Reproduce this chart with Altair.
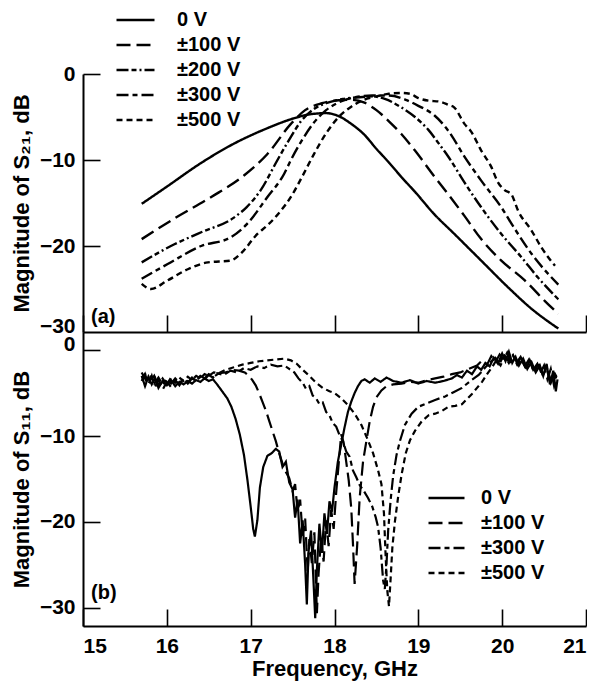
import altair as alt
import pandas as pd

FONT = "Liberation Sans"
FREQ_TICKS = [15, 16, 17, 18, 19, 20, 21]
Y_TICKS = [0, -10, -20, -30]

S21_LABELS = ["0 V", "±100 V", "±200 V", "±300 V", "±500 V"]
S11_LABELS = ["0 V", "±100 V", "±300 V", "±500 V"]

# ---- panel (a): |S21| in dB, (frequency GHz, dB) ----
s21_0v = [(15.70, -15.1), (16.00, -13.1), (16.40, -10.4), (16.80, -8.1), (17.20, -6.3), (17.50, -5.2),
          (17.70, -4.7), (17.90, -4.55), (18.05, -4.9), (18.20, -5.8), (18.35, -7.0), (18.50, -8.7),
          (18.65, -10.3), (18.80, -12.0), (18.96, -13.7), (19.19, -16.3), (19.43, -18.6), (19.75, -21.7),
          (20.07, -24.8), (20.35, -27.3), (20.67, -29.6)]
s21_100 = [(15.70, -19.2), (16.09, -16.8), (16.53, -14.3), (16.92, -11.8), (17.20, -9.3), (17.48, -5.8),
           (17.65, -4.2), (17.85, -3.4), (18.05, -3.05), (18.20, -3.0), (18.35, -3.3), (18.50, -4.2),
           (18.68, -5.8), (18.80, -7.0), (18.96, -8.9), (19.19, -11.9), (19.35, -13.9), (19.55, -16.5),
           (19.75, -19.2), (19.99, -21.7), (20.27, -24.0), (20.51, -26.4), (20.67, -27.9)]
s21_200 = [(15.70, -21.9), (16.09, -19.8), (16.41, -18.4), (16.80, -16.7), (16.95, -15.5), (17.12, -13.5),
           (17.32, -10.0), (17.48, -7.3), (17.60, -5.5), (17.75, -4.1), (17.90, -3.4), (18.10, -2.9),
           (18.30, -2.7), (18.45, -2.6), (18.60, -2.9), (18.80, -3.9), (18.96, -5.0), (19.12, -6.5),
           (19.26, -8.3), (19.35, -9.5), (19.55, -12.6), (19.75, -15.5), (19.99, -18.6), (20.23, -21.3),
           (20.43, -23.7), (20.67, -26.2)]
s21_300 = [(15.70, -23.8), (16.01, -22.1), (16.41, -20.0), (16.76, -19.0), (16.96, -17.4), (17.20, -14.3),
           (17.40, -11.6), (17.48, -10.0), (17.60, -7.9), (17.75, -5.7), (17.90, -4.2), (18.05, -3.3),
           (18.25, -2.7), (18.45, -2.5), (18.65, -2.5), (18.85, -3.0), (19.00, -3.7), (19.19, -4.8),
           (19.35, -6.5), (19.55, -9.6), (19.75, -12.4), (19.99, -15.5), (20.15, -18.0), (20.35, -20.9),
           (20.67, -24.5)]
s21_500 = [(15.70, -24.4), (15.81, -25.0), (16.01, -24.0), (16.25, -22.7), (16.49, -21.9), (16.76, -21.7),
           (16.88, -20.9), (17.08, -18.6), (17.20, -17.6), (17.36, -15.9), (17.48, -14.3), (17.60, -12.2),
           (17.75, -9.4), (17.90, -6.9), (18.05, -5.0), (18.20, -3.8), (18.35, -3.0), (18.50, -2.6),
           (18.65, -2.3), (18.80, -2.2), (18.90, -2.3), (19.00, -2.8), (19.12, -3.1), (19.25, -3.2),
           (19.36, -3.6), (19.43, -3.9), (19.55, -5.8), (19.63, -6.7), (19.75, -8.9), (19.87, -10.8),
           (19.95, -12.6), (20.03, -13.5), (20.11, -14.0), (20.19, -15.9), (20.35, -18.2), (20.47, -20.2),
           (20.63, -22.3)]

# ---- panel (b): |S11| in dB ----
s11_0v = [(15.70, -3.0), (15.74, -4.2), (15.78, -3.1), (15.82, -4.0), (15.86, -3.3), (15.90, -4.4),
          (15.95, -3.6), (16.00, -4.1), (16.05, -3.5), (16.10, -4.2), (16.15, -3.7), (16.20, -4.0),
          (16.25, -3.6), (16.30, -3.9), (16.35, -3.5), (16.40, -3.7), (16.45, -3.3), (16.50, -3.6),
          (16.55, -3.4), (16.60, -4.0), (16.66, -4.8), (16.72, -5.6), (16.77, -6.6), (16.82, -8.0),
          (16.87, -9.8), (16.92, -12.2), (16.96, -15.0), (17.00, -18.2), (17.03, -20.8), (17.05, -21.7),
          (17.08, -19.8), (17.11, -16.0), (17.15, -13.6), (17.20, -12.3), (17.25, -12.0), (17.30, -11.5),
          (17.34, -11.8), (17.38, -13.6), (17.42, -13.0), (17.46, -15.4), (17.50, -16.2), (17.53, -19.5),
          (17.56, -17.4), (17.59, -22.5), (17.62, -19.8), (17.65, -25.0), (17.67, -29.6), (17.69, -23.5),
          (17.72, -21.0), (17.75, -27.0), (17.77, -31.2), (17.79, -25.5), (17.82, -20.2), (17.85, -23.6),
          (17.88, -19.0), (17.91, -21.4), (17.94, -17.6), (17.97, -18.8), (18.00, -16.0), (18.04, -13.0),
          (18.08, -11.0), (18.12, -9.0), (18.16, -7.2), (18.20, -6.0), (18.24, -5.0), (18.28, -4.2),
          (18.32, -3.6), (18.36, -3.4), (18.42, -3.8), (18.48, -3.3), (18.55, -3.7), (18.62, -3.2),
          (18.70, -3.6), (18.80, -3.8), (18.90, -3.5), (19.00, -3.9), (19.10, -3.6), (19.20, -3.8),
          (19.30, -3.6), (19.40, -3.3), (19.46, -2.9), (19.52, -3.2), (19.58, -2.4), (19.64, -2.8),
          (19.70, -1.9), (19.75, -2.3), (19.80, -1.5), (19.85, -1.9), (19.90, -0.9), (19.95, -1.6),
          (20.00, -0.4), (20.04, -1.3), (20.08, -0.2), (20.12, -1.5), (20.16, -0.8), (20.20, -1.8),
          (20.25, -1.0), (20.30, -2.2), (20.35, -1.4), (20.40, -2.6), (20.45, -1.8), (20.49, -3.0),
          (20.53, -1.6), (20.57, -4.0), (20.61, -2.4), (20.64, -4.8), (20.66, -3.4)]
s11_100 = [(15.70, -3.6), (15.74, -2.8), (15.78, -4.0), (15.82, -3.0), (15.86, -4.3), (15.90, -3.4),
           (15.95, -4.6), (16.00, -3.7), (16.05, -4.3), (16.10, -3.5), (16.15, -4.1), (16.20, -3.3),
           (16.25, -3.8), (16.30, -3.2), (16.35, -3.6), (16.40, -3.0), (16.45, -3.3), (16.50, -2.8),
           (16.56, -3.1), (16.62, -2.7), (16.70, -2.6), (16.78, -2.3), (16.86, -2.4), (16.93, -2.6),
           (16.98, -3.0), (17.02, -3.5), (17.06, -4.1), (17.10, -5.0), (17.14, -6.0), (17.18, -7.0),
           (17.22, -8.2), (17.26, -9.4), (17.30, -10.6), (17.34, -12.0), (17.38, -13.2), (17.42, -14.2),
           (17.46, -14.9), (17.50, -16.4), (17.53, -15.6), (17.56, -18.8), (17.59, -17.4), (17.62, -21.6),
           (17.65, -19.6), (17.68, -25.8), (17.70, -22.0), (17.73, -24.8), (17.76, -21.2), (17.79, -30.6),
           (17.81, -26.0), (17.84, -21.8), (17.87, -24.6), (17.90, -19.8), (17.93, -22.8), (17.96, -18.6),
           (17.99, -20.8), (18.02, -16.6), (18.05, -13.2), (18.08, -9.8), (18.11, -10.8), (18.14, -13.0),
           (18.17, -15.2), (18.20, -18.4), (18.22, -22.5), (18.24, -27.2), (18.27, -22.8), (18.30, -17.2),
           (18.34, -13.0), (18.38, -10.6), (18.42, -8.3), (18.46, -6.6), (18.50, -5.5), (18.56, -4.7),
           (18.62, -4.2), (18.70, -4.0), (18.80, -3.9), (18.90, -3.7), (19.00, -3.8), (19.10, -3.5),
           (19.20, -3.3), (19.30, -3.1), (19.40, -2.8), (19.50, -2.6), (19.60, -2.2), (19.70, -1.8),
           (19.76, -1.2), (19.82, -1.7), (19.87, -0.7), (19.92, -1.4), (19.97, -0.5), (20.02, -1.1),
           (20.06, -0.3), (20.10, -1.3), (20.14, -0.6), (20.18, -1.6), (20.22, -0.9), (20.27, -1.9),
           (20.32, -1.1), (20.37, -2.3), (20.42, -1.6), (20.46, -2.6), (20.50, -1.8), (20.54, -3.4),
           (20.58, -2.2), (20.62, -4.2), (20.66, -3.2)]
s11_300 = [(15.70, -2.6), (15.75, -3.5), (15.80, -2.9), (15.85, -3.9), (15.90, -3.2), (15.95, -4.0),
           (16.00, -3.4), (16.05, -3.9), (16.10, -3.3), (16.15, -3.8), (16.20, -3.4), (16.25, -3.9),
           (16.30, -3.3), (16.35, -3.6), (16.40, -3.1), (16.45, -3.4), (16.50, -2.9), (16.55, -3.2),
           (16.60, -2.7), (16.68, -2.9), (16.76, -2.4), (16.84, -2.6), (16.92, -2.1), (17.00, -2.3),
           (17.08, -1.9), (17.16, -2.1), (17.24, -1.7), (17.32, -1.9), (17.40, -1.8), (17.46, -2.2),
           (17.52, -2.6), (17.57, -3.3), (17.62, -3.8), (17.66, -4.5), (17.70, -4.2), (17.74, -5.3),
           (17.78, -5.6), (17.82, -6.3), (17.86, -6.1), (17.90, -7.2), (17.94, -7.6), (17.98, -8.5),
           (18.02, -8.9), (18.06, -9.9), (18.10, -10.6), (18.14, -11.8), (18.18, -12.4), (18.22, -14.0),
           (18.26, -14.8), (18.30, -15.7), (18.35, -16.4), (18.40, -17.2), (18.45, -18.2), (18.49, -19.4),
           (18.52, -20.6), (18.55, -23.0), (18.58, -26.8), (18.60, -27.8), (18.62, -25.0), (18.64, -21.0),
           (18.67, -17.4), (18.70, -14.6), (18.74, -12.2), (18.78, -10.6), (18.84, -8.7), (18.92, -7.4),
           (19.00, -6.6), (19.10, -6.2), (19.20, -5.8), (19.32, -5.4), (19.42, -4.9), (19.52, -4.4),
           (19.62, -3.6), (19.72, -2.9), (19.80, -2.0), (19.86, -1.4), (19.92, -0.9), (19.97, -1.6),
           (20.02, -0.5), (20.07, -1.2), (20.12, -0.4), (20.17, -1.5), (20.22, -0.8), (20.28, -2.0),
           (20.33, -1.2), (20.38, -2.4), (20.43, -1.4), (20.48, -2.8), (20.53, -2.0), (20.58, -3.5),
           (20.62, -2.6), (20.66, -3.3)]
s11_500 = [(15.70, -3.2), (15.75, -2.7), (15.80, -3.7), (15.85, -3.0), (15.90, -4.1), (15.95, -3.3),
           (16.00, -4.0), (16.05, -3.2), (16.10, -3.8), (16.15, -3.2), (16.20, -3.6), (16.25, -3.1),
           (16.30, -3.5), (16.35, -3.0), (16.40, -3.3), (16.45, -2.8), (16.50, -3.0), (16.56, -2.6),
           (16.62, -2.7), (16.70, -2.3), (16.80, -2.0), (16.90, -1.7), (17.00, -1.5), (17.10, -1.3),
           (17.20, -1.2), (17.30, -1.1), (17.40, -1.0), (17.48, -1.2), (17.55, -1.6), (17.62, -2.3),
           (17.70, -3.0), (17.78, -3.8), (17.86, -4.4), (17.94, -4.8), (18.00, -5.0), (18.08, -5.6),
           (18.16, -6.4), (18.24, -7.4), (18.32, -8.7), (18.40, -10.5), (18.46, -12.0), (18.52, -14.0),
           (18.56, -15.6), (18.59, -19.0), (18.61, -24.0), (18.63, -28.0), (18.65, -29.8), (18.67, -26.5),
           (18.69, -23.0), (18.72, -20.0), (18.76, -17.0), (18.80, -14.5), (18.85, -12.0), (18.90, -10.5),
           (18.96, -9.4), (19.04, -8.3), (19.12, -7.6), (19.20, -7.4), (19.28, -7.1), (19.36, -6.6),
           (19.44, -6.5), (19.52, -6.3), (19.58, -5.7), (19.64, -5.1), (19.70, -4.4), (19.76, -3.7),
           (19.82, -2.8), (19.88, -2.0), (19.93, -1.2), (19.98, -1.8), (20.03, -0.7), (20.08, -1.5),
           (20.13, -0.6), (20.18, -1.7), (20.23, -1.0), (20.28, -2.1), (20.33, -1.3), (20.38, -2.6),
           (20.43, -1.7), (20.48, -3.0), (20.53, -2.2), (20.58, -3.8), (20.62, -2.8), (20.66, -3.6)]

PANEL_TAGS = ["(a)", "(b)"]

DASH = {"0 V": [1, 0], "±100 V": [14, 6], "±200 V": [12, 3, 5, 3, 2, 3],
        "±300 V": [12, 4, 5, 4], "±500 V": [6, 4]}

W = 503
H1 = 258
H2 = 294

MINUS_EXPR = "datum.value < 0 ? '\u2212' + abs(datum.value) : datum.label"


def frame(labels, series):
    rows = []
    for lab, pts in zip(labels, series):
        for f, d in pts:
            rows.append({"f": f, "db": d, "v": lab})
    return pd.DataFrame(rows)


def panel(df, labels, ydom, ytitle, H, bottom, leg, tag, tag_y, sw, interp, ytick_vals, flush_val):
    base = alt.Chart(df)
    if bottom:
        xaxis = alt.Axis(orient="bottom", values=FREQ_TICKS, ticks=False, tickSize=0, labelPadding=9,
                         labelFontSize=21, title="Frequency, GHz", titleFontSize=22, titlePadding=2,
                         domainWidth=2, domainColor="black", grid=False, format="d")
    else:
        xaxis = alt.Axis(orient="bottom", labels=False, ticks=False, tickSize=0, title=None,
                         domainWidth=2, domainColor="black", grid=False)
    yaxis = alt.Axis(orient="left", values=Y_TICKS, ticks=False, tickSize=0, labelPadding=8,
                     labelFontSize=21, labelExpr=MINUS_EXPR,
                     labelBaseline={"condition": {"test": f"datum.value === {flush_val}", "value": "alphabetic"},
                                    "value": "middle"},
                     title=ytitle, titleFontSize=22, titlePadding=6, minExtent=44, maxExtent=44,
                     domainWidth=2, domainColor="black", grid=False)
    legend = alt.Legend(orient="none", legendX=leg[0], legendY=leg[1], title=None, symbolType="stroke",
                        symbolSize=leg[2] ** 2, symbolStrokeWidth=2.4, symbolStrokeColor="black",
                        labelFont=FONT, labelFontSize=20, labelFontWeight="bold", labelColor="black",
                        clipHeight=20, rowPadding=5, labelOffset=leg[3], padding=0, symbolOffset=0,
                        direction="vertical")
    lines = base.mark_line(color="black", strokeWidth=sw, interpolate=interp, clip=True).encode(
        x=alt.X("f:Q", scale=alt.Scale(domain=[15, 21], nice=False, zero=False), axis=xaxis),
        y=alt.Y("db:Q", scale=alt.Scale(domain=ydom, nice=False, zero=False), axis=yaxis),
        strokeDash=alt.StrokeDash("v:N", scale=alt.Scale(domain=labels, range=[DASH[l] for l in labels]),
                                  legend=legend),
    )
    ticks = base.mark_line(opacity=0).encode(
        x=alt.X("f:Q", axis=alt.Axis(orient="top", offset=-H, labels=False, domain=False, grid=False,
                                     tickSize=17, tickWidth=1.6, tickColor="black", values=FREQ_TICKS,
                                     title=None)),
        y=alt.Y("db:Q", axis=alt.Axis(orient="right", offset=-W, labels=False, domain=False, grid=False,
                                      tickSize=17, tickWidth=1.6, tickColor="black", values=ytick_vals,
                                      title=None)),
    )
    tag_chart = alt.Chart(pd.DataFrame({"t": [tag]})).mark_text(
        align="left", baseline="middle", font=FONT, fontSize=20, fontWeight="bold", color="black"
    ).encode(x=alt.value(8), y=alt.value(tag_y), text="t:N")
    return alt.layer(lines, ticks, tag_chart).resolve_axis(x="independent", y="independent").properties(
        width=W, height=H)


df21 = frame(S21_LABELS, [s21_0v, s21_100, s21_200, s21_300, s21_500])
df11 = frame(S11_LABELS, [s11_0v, s11_100, s11_300, s11_500])

top = panel(df21, S21_LABELS, [-30, 0], "Magnitude of S₂₁, dB", H1, False,
            (32, -64, 38, 21), PANEL_TAGS[0], H1 - 15, 2.4, "monotone", [0, -10, -20], -30)
bot = panel(df11, S11_LABELS, [-32.1, 2.1], "Magnitude of S₁₁, dB", H2, True,
            (344, 156, 36, 15), PANEL_TAGS[1], H2 - 33, 2.2, "linear", [0, -10, -20, -30], 0)

chart = alt.vconcat(top, bot, spacing=0, bounds="flush").resolve_scale(
    strokeDash="independent").resolve_legend(strokeDash="independent").properties(
    padding={"left": 2, "top": 2, "right": 0, "bottom": 2}
).configure_view(stroke=None).configure_axis(
    labelFont=FONT, labelFontWeight="bold", labelColor="black",
    titleFont=FONT, titleFontWeight="bold", titleColor="black"
).configure_text(font=FONT)

chart.save("out.html", embed_options={"renderer": "svg", "actions": False})
